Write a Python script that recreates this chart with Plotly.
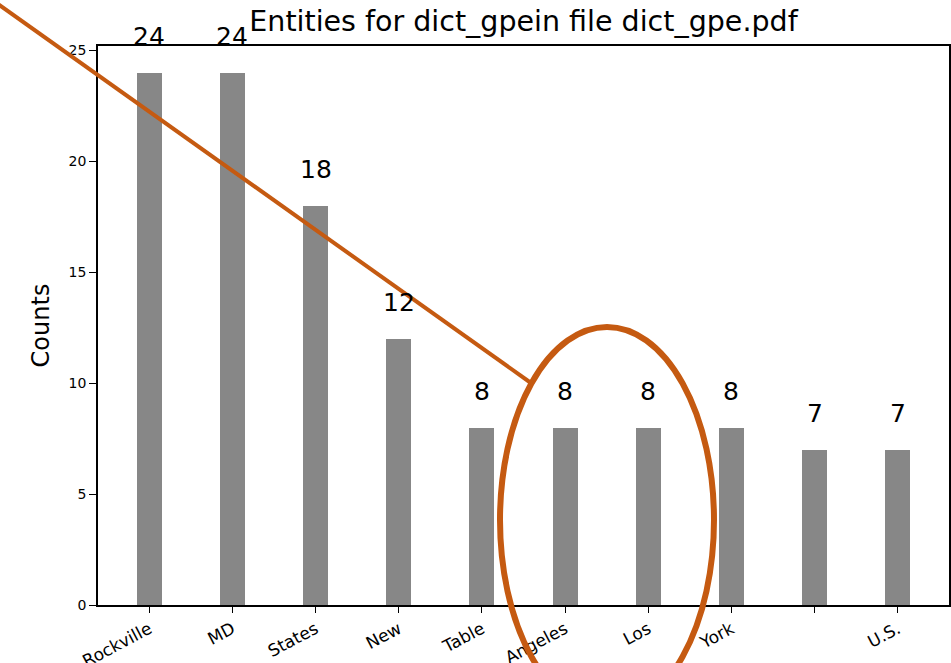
import plotly.graph_objects as go

# Entity counts extracted from dict_gpe.pdf
entities = ["Rockville", "MD", "States", "New", "Table", "Angeles", "Los", "York", "", "U.S."]
counts = [24, 24, 18, 12, 8, 8, 8, 8, 7, 7]
positions = list(range(len(entities)))
y_ticks = [0, 5, 10, 15, 20, 25]

W, H = 951, 663
L, R, T, B = 98, 2, 46, 58
ORANGE = "#C55A11"
FONT = "DejaVu Sans, Liberation Sans, sans-serif"

fig = go.Figure()
fig.add_trace(go.Bar(
    x=positions, y=counts, width=0.3,
    marker=dict(color="#878787", line=dict(width=0)),
    hoverinfo="x+y",
))

# value labels above each bar
for xi, v in zip(positions, counts):
    fig.add_annotation(x=xi, y=v, text=str(v), showarrow=False,
                       yanchor="bottom", yshift=20,
                       font=dict(size=25, color="black", family=FONT))

# highlight overlay drawn in pixel space, converted to paper units
pw, ph = W - L - R, H - T - B
def px(xp):
    return (xp - L) / pw
def py(yp):
    return (H - B - yp) / ph

fig.add_shape(type="line", xref="paper", yref="paper",
              x0=px(-2), y0=py(4), x1=px(531), y1=py(383),
              line=dict(color=ORANGE, width=4))
fig.add_shape(type="circle", xref="paper", yref="paper",
              x0=px(500), x1=px(714), y0=py(327), y1=py(713),
              line=dict(color=ORANGE, width=6))

fig.update_layout(
    width=W, height=H,
    margin=dict(l=L, r=R, t=T, b=B, autoexpand=False),
    plot_bgcolor="white", paper_bgcolor="white",
    showlegend=False,
    title=dict(text="Entities for dict_gpein file dict_gpe.pdf",
               x=(L + (W - R)) / 2 / W, xanchor="center",
               y=1 - 21 / H, yanchor="middle",
               font=dict(size=28.5, color="black", family=FONT)),
    font=dict(family=FONT, color="black"),
    bargap=0,
)
fig.update_xaxes(
    range=[-0.615, 9.615], automargin=False,
    tickmode="array", tickvals=positions, ticktext=entities,
    tickangle=-28, ticks="outside", ticklen=6, tickwidth=1.3, tickcolor="black",
    showline=True, linecolor="black", linewidth=1.5, mirror=True,
    showgrid=False, zeroline=False,
    tickfont=dict(size=17, family=FONT, color="black"),
)
fig.update_yaxes(
    range=[0, 25.2], automargin=False,
    tickmode="array", tickvals=y_ticks,
    ticks="outside", ticklen=7, tickwidth=1.3, tickcolor="black",
    showline=True, linecolor="black", linewidth=1.5, mirror=True,
    showgrid=False, zeroline=False,
    tickfont=dict(size=14, family=FONT, color="black"),
    title=dict(text="Counts", font=dict(size=24, family=FONT, color="black"), standoff=12),
)

fig.write_html("out.html")
